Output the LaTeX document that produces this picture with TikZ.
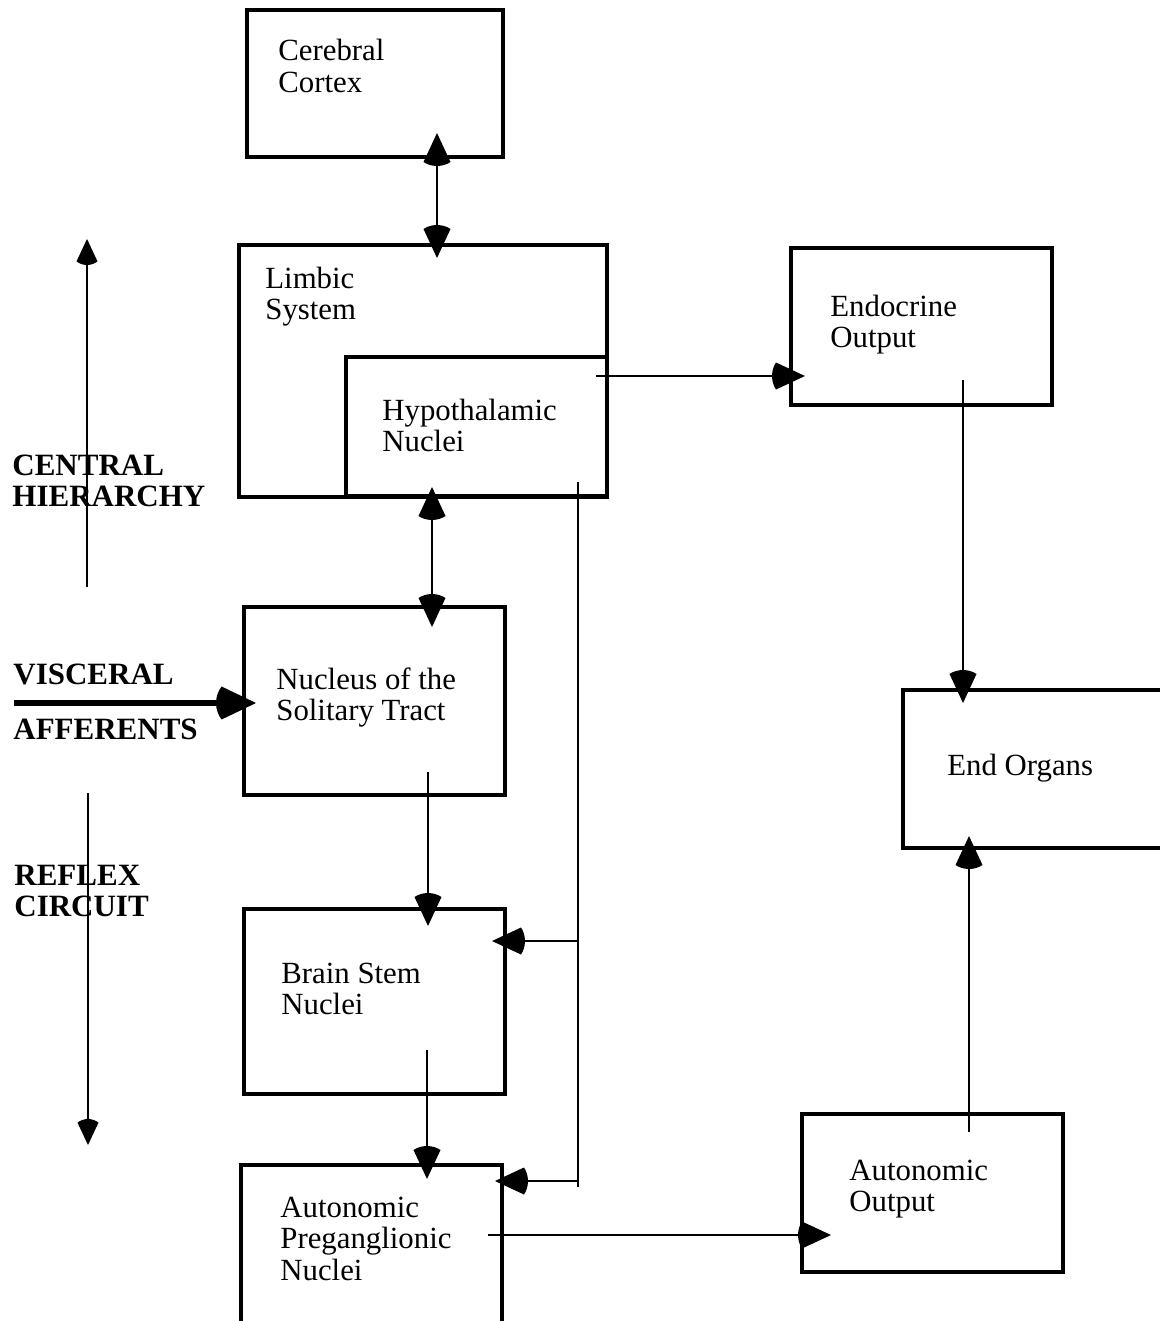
\documentclass[tikz,border=0pt]{standalone}
\usepackage{fontspec}
\setmainfont{Liberation Serif}
\usetikzlibrary{arrows.meta}
\pgfdeclarearrow{
  name = Bulb,
  parameters = {\the\pgfarrowlength,\the\pgfarrowwidth,\the\pgfarrowinset},
  setup code = {
    \pgfarrowssettipend{0pt}
    \pgfarrowssetbackend{-\pgfarrowlength}
    \pgfarrowssetlineend{-.6\pgfarrowlength}
    \pgfarrowssavethe\pgfarrowlength
    \pgfarrowssavethe\pgfarrowwidth
    \pgfarrowssavethe\pgfarrowinset
    \pgfarrowshullpoint{0pt}{0pt}
    \pgfarrowsupperhullpoint{-\pgfarrowlength}{.5\pgfarrowwidth}
  },
  drawing code = {
    \pgfpathmoveto{\pgfqpoint{0pt}{0pt}}
    \pgfpathlineto{\pgfpoint{-\pgfarrowlength+\pgfarrowinset}{.5\pgfarrowwidth}}
    \pgfpathcurveto{\pgfpoint{-\pgfarrowlength+.45\pgfarrowinset}{.38\pgfarrowwidth}}{\pgfpoint{-\pgfarrowlength}{.2\pgfarrowwidth}}{\pgfpoint{-\pgfarrowlength}{0pt}}
    \pgfpathcurveto{\pgfpoint{-\pgfarrowlength}{-.2\pgfarrowwidth}}{\pgfpoint{-\pgfarrowlength+.45\pgfarrowinset}{-.38\pgfarrowwidth}}{\pgfpoint{-\pgfarrowlength+\pgfarrowinset}{-.5\pgfarrowwidth}}
    \pgfpathclose
    \pgfusepathqfill
  },
  defaults = {length=16pt, width=13pt, inset=2pt}
}
\begin{document}
\begin{tikzpicture}[x=0.5pt,y=-0.5pt,
  box/.style={draw, line width=1.6pt, rectangle, anchor=north west, inner sep=0pt, outer sep=0pt},
  lbl/.style={anchor=base west, inner sep=0pt, font=\fontsize{15.4}{15.8}\selectfont},
  side/.style={anchor=base west, inner sep=0pt, font=\fontsize{15.5}{15.8}\selectfont\bfseries},
  conn/.style={line width=1.35pt, -{Bulb[length=16.5pt,width=13.5pt,inset=2pt]}},
  dbl/.style={line width=1.35pt, {Bulb[length=16.5pt,width=13.5pt,inset=2pt]}-{Bulb[length=16.5pt,width=13.5pt,inset=2pt]}},
  thinarr/.style={line width=0.6pt, -{Bulb[length=13pt,width=10.5pt,inset=1.8pt]}},
  thickarr/.style={line width=3pt, -{Bulb[length=20pt,width=16.5pt,inset=2.8pt]}},
  plain/.style={line width=1.35pt}
]
\useasboundingbox (0,0) rectangle (1160,1321);
\clip (0,0) rectangle (1160,1321);

% boxes
\node[box, minimum width=128pt, minimum height=73.5pt] (cc) at (247,10) {};
\node[box, minimum width=184pt, minimum height=126pt] (lim) at (239,245) {};
\node[box, minimum width=130.5pt, minimum height=69.5pt] (hyp) at (346,357) {};
\node[box, minimum width=130.5pt, minimum height=78.5pt] (endo) at (791,248) {};
\node[box, minimum width=130.5pt, minimum height=94pt] (nts) at (244,607) {};
\node[box, minimum width=148.5pt, minimum height=79pt] (endorg) at (903,690) {};
\node[box, minimum width=130.5pt, minimum height=92.5pt] (bsn) at (244,909) {};
\node[box, minimum width=130.5pt, minimum height=100pt] (apn) at (241,1165) {};
\node[box, minimum width=130.5pt, minimum height=79pt] (aout) at (802,1114) {};

% box texts
\node[lbl] (cc-t) at (278,61) {\begin{tabular}[t]{@{}l@{}}Cerebral\\Cortex\end{tabular}};
\node[lbl] (lim-t) at (265,288) {\begin{tabular}[t]{@{}l@{}}Limbic\\System\end{tabular}};
\node[lbl] (hyp-t) at (382,420) {\begin{tabular}[t]{@{}l@{}}Hypothalamic\\Nuclei\end{tabular}};
\node[lbl] (endo-t) at (830,316) {\begin{tabular}[t]{@{}l@{}}Endocrine\\Output\end{tabular}};
\node[lbl] (nts-t) at (276,689) {\begin{tabular}[t]{@{}l@{}}Nucleus of the\\Solitary Tract\end{tabular}};
\node[lbl] (endorg-t) at (947,775) {End Organs};
\node[lbl] (bsn-t) at (281,983) {\begin{tabular}[t]{@{}l@{}}Brain Stem\\Nuclei\end{tabular}};
\node[lbl] (apn-t) at (280,1217) {\begin{tabular}[t]{@{}l@{}}Autonomic\\Preganglionic\\Nuclei\end{tabular}};
\node[lbl] (aout-t) at (849,1180) {\begin{tabular}[t]{@{}l@{}}Autonomic\\Output\end{tabular}};

% side arrows and labels
\coordinate (ch0) at (87,587);
\coordinate (ch1) at (87,239);
\draw[thinarr] (ch0) -- (ch1);
\coordinate (rc0) at (88,793);
\coordinate (rc1) at (88,1145);
\draw[thinarr] (rc0) -- (rc1);
\coordinate (va) at (14,703);
\draw[thickarr] (va) -- ([xshift=6pt]va -| nts.west);

\node[side] (ch-t) at (12,475) {\begin{tabular}[t]{@{}l@{}}CENTRAL\\HIERARCHY\end{tabular}};
\node[side] (va-t1) at (13,684) {VISCERAL};
\node[side] (va-t2) at (13,739) {AFFERENTS};
\node[side] (rc-t) at (14,885) {\begin{tabular}[t]{@{}l@{}}REFLEX\\CIRCUIT\end{tabular}};

% connectors
\draw[dbl] ([shift={(62,-24)}]cc.south) -- ([shift={(14,13)}]lim.north);
\draw[dbl] ([shift={(-44.5,-9)}]hyp.south) -- ([shift={(57.5,20)}]nts.north);
\draw[conn] ([shift={(-11,19)}]hyp.north east) -- ([shift={(14,49.5)}]endo.west);

\coordinate (hj1) at (578,941);
\coordinate (hj2) at (578,1181);
\coordinate (hend) at (578,1187);
\draw[plain] ([shift={(-29,-14)}]hyp.south east) -- (hend);
\draw[conn] (hj1) -- ([xshift=-6.5pt]hj1 -| bsn.east);
\draw[conn] (hj2) -- ([xshift=-3.5pt]hj2 -| apn.east);

\draw[conn] ([shift={(53.5,-23)}]nts.south) -- ([shift={(53.5,17)}]bsn.north);
\draw[conn] ([shift={(52.5,-44)}]bsn.south) -- ([shift={(55.5,14)}]apn.north);
\draw[conn] ([shift={(41.5,-25)}]endo.south) -- ([shift={(60,13)}]endorg.north west);
\draw[conn] ([shift={(36.5,18)}]aout.north) -- ([shift={(66,-12)}]endorg.south west);
\draw[conn] ([shift={(-14,70)}]apn.north east) -- ([shift={(29,42)}]aout.west);
\end{tikzpicture}
\end{document}
